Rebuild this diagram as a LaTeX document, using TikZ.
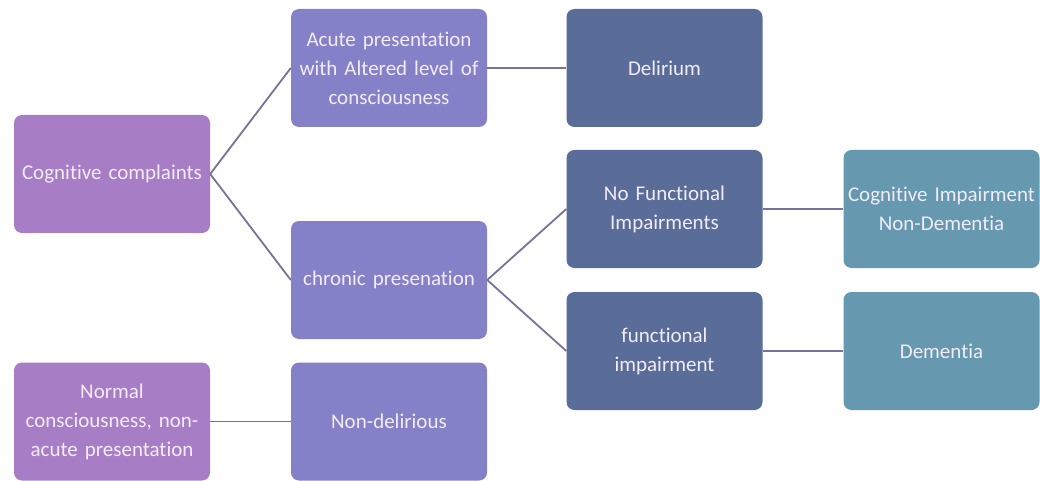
\documentclass[tikz,border=0pt]{standalone}
\usepackage{fontspec}
\setmainfont{Carlito}[Ligatures=NoCommon]
\definecolor{cPurple}{HTML}{A77EC6}
\definecolor{cPeri}{HTML}{8581C8}
\definecolor{cSlate}{HTML}{5A6C98}
\definecolor{cTeal}{HTML}{6698B0}
\definecolor{cLine}{HTML}{74749A}
\definecolor{cText}{HTML}{F2ECF8}
\begin{document}
\begin{tikzpicture}[x=1pt,y=-1pt,
  box/.style={rounded corners=8pt, minimum width=194pt, minimum height=118pt,
    inner sep=2pt, align=center, text width=192pt, text=cText,
    font=\fontsize{21}{29}\selectfont},
  link/.style={draw=cLine, line width=1.8pt}]
\useasboundingbox (0,0) rectangle (1040,481);
\fill[white] (0,0) rectangle (1040,481);
\node[box, fill=cPurple] (cc) at (112,174) {Cognitive complaints};
\node[box, fill=cPeri] (ac) at (389,68) {Acute presentation\\with Altered level of\\consciousness};
\node[box, fill=cSlate] (de) at (664.5,68) {Delirium};
\node[box, fill=cPeri] (ch) at (389,280) {chronic presenation};
\node[box, fill=cSlate] (nf) at (664.5,209) {No Functional\\Impairments};
\node[box, fill=cTeal] (ci) at (941.5,209) {Cognitive Impairment\\Non-Dementia};
\node[box, fill=cSlate] (fi) at (664.5,351) {functional\\impairment};
\node[box, fill=cTeal] (dm) at (941.5,351) {Dementia};
\node[box, fill=cPurple] (no) at (112,421.5) {Normal\\consciousness, non-\\acute presentation};
\node[box, fill=cPeri] (nd) at (389,421.5) {Non-delirious};
\draw[link] (cc.east) -- (ac.west);
\draw[link] (cc.east) -- (ch.west);
\draw[link] (ac.east) -- (de.west);
\draw[link] (ch.east) -- (nf.west);
\draw[link] (ch.east) -- (fi.west);
\draw[link] (nf.east) -- (ci.west);
\draw[link] (fi.east) -- (dm.west);
\draw[link] (no.east) -- (nd.west);
\end{tikzpicture}
\end{document}
